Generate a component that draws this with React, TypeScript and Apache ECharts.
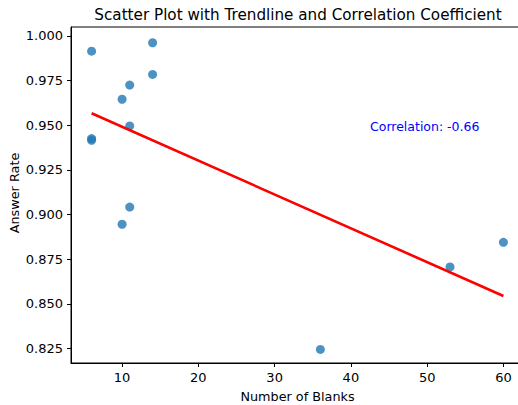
import React, { useEffect, useRef } from "react";
import * as echarts from "echarts";

const blanks = [6, 14, 14, 11, 10, 11, 6, 6, 11, 10, 36, 53, 60];
const answerRate = [0.9914, 0.9961, 0.9784, 0.9724, 0.9645, 0.9496, 0.9425, 0.9415, 0.9042, 0.8946, 0.8246, 0.8707, 0.8845];
const xTicks = [10, 20, 30, 40, 50, 60];
const yTicks = [0.825, 0.85, 0.875, 0.9, 0.925, 0.95, 0.975, 1.0];
const titleText = "Scatter Plot with Trendline and Correlation Coefficient";
const corrText = "Correlation: -0.66";
const yName = "Answer Rate";

function fitLine(xs: number[], ys: number[]) {
  const n = xs.length;
  const mx = xs.reduce((a, b) => a + b, 0) / n;
  const my = ys.reduce((a, b) => a + b, 0) / n;
  let sxy = 0, sxx = 0;
  for (let i = 0; i < n; i++) {
    sxy += (xs[i] - mx) * (ys[i] - my);
    sxx += (xs[i] - mx) * (xs[i] - mx);
  }
  const slope = sxy / sxx;
  const b = my - slope * mx;
  const x0 = Math.min(...xs), x1 = Math.max(...xs);
  return [[x0, slope * x0 + b], [x1, slope * x1 + b]];
}

export default function App() {
  const ref = useRef<HTMLDivElement>(null);
  useEffect(() => {
    document.body.style.margin = "0";
    const chart = echarts.init(ref.current!, null, { renderer: "svg" });
    const font = "DejaVu Sans";
    const trend = fitLine(blanks, answerRate);
    chart.setOption({
      animation: false,
      textStyle: { fontFamily: font },
      grid: {
        left: 71, right: -6, top: 27, bottom: 42,
        outerBoundsMode: "none", containLabel: false,
        show: true, borderColor: "#000", borderWidth: 1, backgroundColor: "transparent",
      },
      xAxis: {
        type: "value", min: 3.3, max: 62.7,
        name: "Number of Blanks", nameLocation: "middle", nameGap: 27,
        nameTextStyle: { fontSize: 12.8, color: "#000", fontFamily: font },
        axisLine: { show: true, lineStyle: { color: "#000", width: 1 } },
        axisTick: { show: true, length: 4, customValues: xTicks, lineStyle: { color: "#000" } },
        axisLabel: { customValues: xTicks, fontSize: 13, color: "#000", margin: 8, fontFamily: font },
        splitLine: { show: false },
      },
      yAxis: {
        type: "value", min: 0.817, max: 1.0049,
        axisLine: { show: true, lineStyle: { color: "#000", width: 1 } },
        axisTick: { show: true, length: 4, customValues: yTicks, lineStyle: { color: "#000" } },
        axisLabel: {
          customValues: yTicks, fontSize: 13, color: "#000", margin: 8, fontFamily: font,
          formatter: (v: number) => v.toFixed(3),
        },
        splitLine: { show: false },
      },
      graphic: [
        {
          type: "text", x: 298, y: 15,
          style: { text: titleText, fontSize: 15.2, fill: "#000", fontFamily: font, textAlign: "center", textVerticalAlign: "middle" },
        },
        {
          type: "text", x: 14, y: 193, rotation: Math.PI / 2,
          style: { text: yName, fontSize: 12.8, fill: "#000", fontFamily: font, textAlign: "center", textVerticalAlign: "middle" },
        },
        {
          type: "text", x: 370, y: 126,
          style: { text: corrText, fontSize: 12.5, fill: "#0000ff", fontFamily: font, textAlign: "left", textVerticalAlign: "middle" },
        },
      ],
      series: [
        {
          type: "scatter",
          data: blanks.map((x, i) => [x, answerRate[i]]),
          symbolSize: 9,
          itemStyle: { color: "#1f77b4", opacity: 0.8 },
          z: 2,
        },
        {
          type: "line",
          data: trend,
          showSymbol: false,
          lineStyle: { color: "#ff0000", width: 2.6 },
          z: 3,
        },
      ],
    });
    return () => chart.dispose();
  }, []);
  return <div ref={ref} style={{ width: 518, height: 405 }} />;
}
